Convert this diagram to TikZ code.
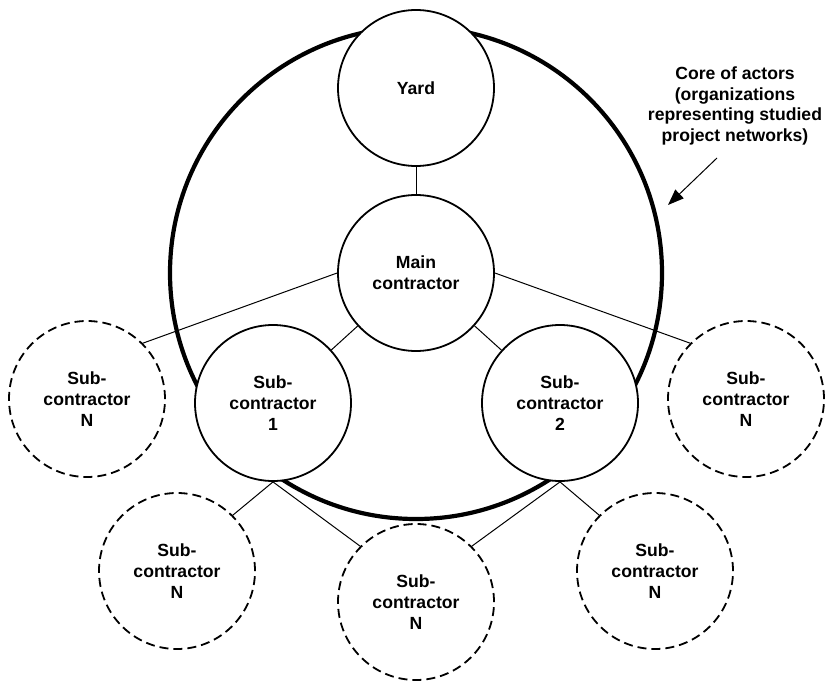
\documentclass[tikz,border=0pt]{standalone}
\usepackage{fontspec}
\setmainfont{Liberation Sans}
\usetikzlibrary{arrows.meta}
\begin{document}
\begin{tikzpicture}[x=1pt,y=-1pt,
  txt/.style={font=\fontsize{17.6}{20.7}\selectfont\bfseries,align=center},
  actor/.style={txt,circle,draw,line width=1.8pt,fill=white,minimum size=156pt,inner sep=0pt},
  other/.style={actor,dash pattern=on 9pt off 5pt,fill=none},
  core/.style={circle,draw,line width=4.2pt,minimum size=492pt,inner sep=0pt},
  link/.style={line width=1pt}]
\useasboundingbox (0,0) rectangle (825,682);
\node[core] (core) at (416,273) {};
\node[actor] (yard) at (416,88) {Yard};
\node[actor] (main) at (416,273) {Main\\contractor};
\node[actor] (s1) at (273,403) {Sub-\\contractor\\1};
\node[actor] (s2) at (560,403) {Sub-\\contractor\\2};
\node[other] (nl) at (87,399) {Sub-\\contractor\\N};
\node[other] (nr) at (746,399) {Sub-\\contractor\\N};
\node[other] (nbl) at (177,571) {Sub-\\contractor\\N};
\node[other] (nbc) at (416,602) {Sub-\\contractor\\N};
\node[other] (nbr) at (655,571) {Sub-\\contractor\\N};
\draw[link] (yard) -- (main);
\draw[link] (main) -- (s1);
\draw[link] (main) -- (s2);
\draw[link] (main.west) -- (nl.north east);
\draw[link] (main.east) -- (nr.north west);
\draw[link] (s1.south) -- (nbl.north east);
\draw[link] (s1.south) -- (nbc.north west);
\draw[link] (s2.south) -- (nbc.north east);
\draw[link] (s2.south) -- (nbr.north west);
\node[txt] (lab) at (735,106) {Core of actors\\(organizations\\representing studied\\project networks)};
\coordinate (as) at (717,158);
\coordinate (ae) at (668,205);
\draw[link,-{Triangle[length=16pt,width=12pt]}] (as) -- (ae);
\end{tikzpicture}
\end{document}
